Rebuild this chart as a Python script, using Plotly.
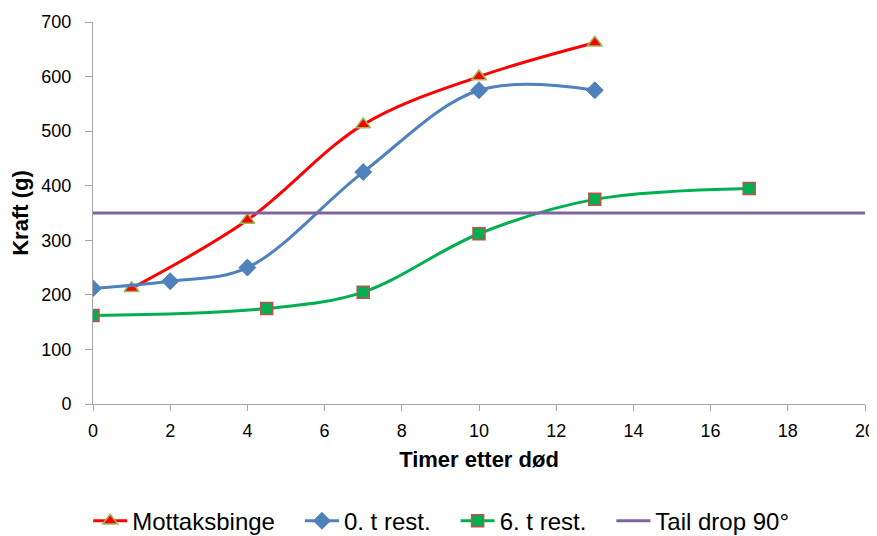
import plotly.graph_objects as go

# Data
mott_x = [1, 4, 7, 10, 13]
mott_y = [212, 337, 512, 600, 662]
t0_x = [0, 2, 4, 7, 10, 13]
t0_y = [212, 225, 250, 425, 575, 575]
t6_x = [0, 4.5, 7, 10, 13, 17]
t6_y = [162, 175, 205, 312, 375, 395]
tail_x = [0, 20]
tail_y = [350, 350]
x_ticks = [0, 2, 4, 6, 8, 10, 12, 14, 16, 18, 20]
y_ticks = [0, 100, 200, 300, 400, 500, 600, 700]
names = ["Mottaksbinge", "0. t rest.", "6. t rest.", "Tail drop 90°"]

FONT = "Liberation Sans, Arial, sans-serif"
PAD = "\u00a0\u00a0\u00a0"

fig = go.Figure()
fig.add_trace(go.Scatter(
    x=mott_x, y=mott_y, name=names[0] + PAD, mode="lines+markers",
    line=dict(color="#FF0000", width=3, shape="spline", smoothing=1.0),
    marker=dict(symbol="triangle-up", size=13, color="#FF0000",
                line=dict(color="#9BBB59", width=1.5))))
fig.add_trace(go.Scatter(
    x=t0_x, y=t0_y, name=names[1] + PAD, mode="lines+markers",
    line=dict(color="#4F81BD", width=3, shape="spline", smoothing=1.0),
    marker=dict(symbol="diamond", size=13, color="#4F81BD",
                line=dict(color="#4F81BD", width=1))))
fig.add_trace(go.Scatter(
    x=t6_x, y=t6_y, name=names[2] + PAD, mode="lines+markers",
    line=dict(color="#00B050", width=3, shape="spline", smoothing=1.0),
    marker=dict(symbol="square", size=12, color="#00B050",
                line=dict(color="#C0504D", width=1.5))))
fig.add_trace(go.Scatter(
    x=tail_x, y=tail_y, name=names[3], mode="lines",
    line=dict(color="#8064A2", width=3)))

# page body has an 8px margin, so the figure is sized to fit the window
fig.update_layout(
    width=869, height=528,
    margin=dict(l=85, r=12, t=14, b=132, autoexpand=False),
    plot_bgcolor="white", paper_bgcolor="white",
    font=dict(family=FONT, size=18, color="black"),
    showlegend=True,
    legend=dict(orientation="h", x=0.451, xanchor="center",
                yref="container", y=0.028, yanchor="middle",
                font=dict(size=24, family=FONT), itemwidth=34, tracegroupgap=0),
    xaxis=dict(range=[0, 20], tickvals=x_ticks, showgrid=False, zeroline=False,
               showline=True, linecolor="#A6A6A6", linewidth=1,
               ticks="outside", tickcolor="#A6A6A6", ticklen=6,
               ticklabelstandoff=4, automargin=False,
               tickfont=dict(size=18, family=FONT),
               title=dict(text="<b>Timer etter død</b>", font=dict(size=22, family=FONT), standoff=12)),
    yaxis=dict(range=[0, 700], tickvals=y_ticks, showgrid=False, zeroline=False,
               showline=True, linecolor="#A6A6A6", linewidth=1,
               ticks="outside", tickcolor="#A6A6A6", ticklen=7,
               ticklabelstandoff=10, automargin=False,
               tickfont=dict(size=18, family=FONT),
               title=dict(text="<b>Kraft (g)</b>", font=dict(size=22, family=FONT), standoff=10)),
)

fig.write_html("out.html")
